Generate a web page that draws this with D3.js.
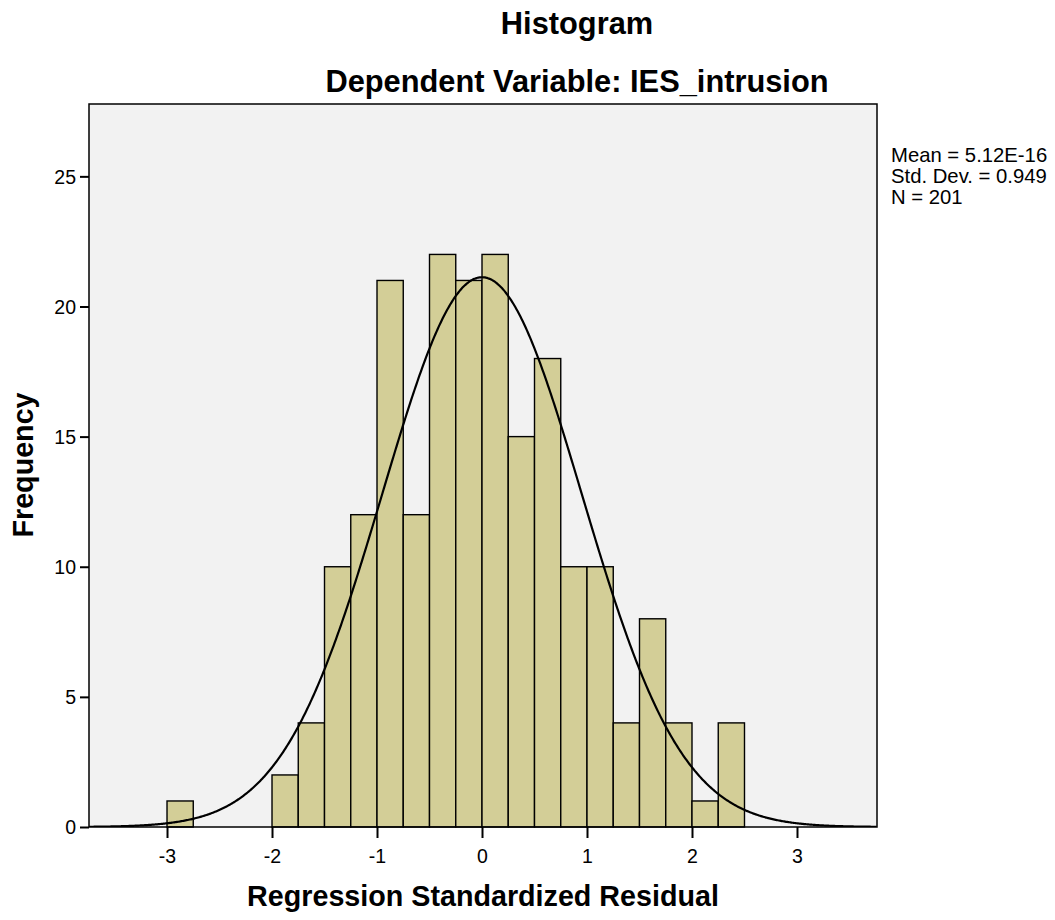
<!DOCTYPE html>
<html>
<head>
<meta charset="utf-8">
<script src="https://cdn.jsdelivr.net/npm/d3@7/dist/d3.min.js"></script>
<style>
  html, body { margin: 0; padding: 0; background: #fff; }
  text { font-family: "Liberation Sans", Arial, sans-serif; }
</style>
</head>
<body>
<svg id="chart" width="1055" height="920"></svg>
<script>
// Histogram bins: lower edge of each bin and its count
const binStart = [-3.0, -2.0, -1.75, -1.5, -1.25, -1.0, -0.75, -0.5, -0.25, 0.0,
                  0.25, 0.5, 0.75, 1.0, 1.25, 1.5, 1.75, 2.0, 2.25];
const binCount = [1, 2, 4, 10, 12, 21, 12, 22, 21, 22,
                  15, 18, 10, 10, 4, 8, 4, 1, 4];
const binWidth = 0.25;

// Summary statistics used for the fitted normal curve
const statMean = 5.12e-16;
const statSD = 0.949;
const statN = 201;
const legendLines = ["Mean = 5.12E-16", "Std. Dev. = 0.949", "N = 201"];

const xTicks = [-3, -2, -1, 0, 1, 2, 3];
const yTicks = [0, 5, 10, 15, 20, 25];

const svg = d3.select("#chart");
const plot = { left: 89, right: 877, top: 104, bottom: 827 };

const x = d3.scaleLinear().domain([-3.743, 3.762]).range([plot.left, plot.right]);
const y = d3.scaleLinear().domain([0, 27.78]).range([plot.bottom, plot.top]);

// Plot background
svg.append("rect")
  .attr("x", plot.left).attr("y", plot.top)
  .attr("width", plot.right - plot.left).attr("height", plot.bottom - plot.top)
  .attr("fill", "#f2f2f2");

svg.append("defs").append("clipPath").attr("id", "plotClip")
  .append("rect")
  .attr("x", plot.left).attr("y", plot.top)
  .attr("width", plot.right - plot.left).attr("height", plot.bottom - plot.top);

// Bars
svg.append("g").selectAll("rect")
  .data(binStart.map((s, i) => ({ s, c: binCount[i] })))
  .join("rect")
  .attr("x", d => x(d.s))
  .attr("y", d => y(d.c))
  .attr("width", d => x(d.s + binWidth) - x(d.s))
  .attr("height", d => y(0) - y(d.c))
  .attr("fill", "#d3ce97")
  .attr("stroke", "#000")
  .attr("stroke-width", 1.4);

// Normal curve scaled to counts
const pdf = v => Math.exp(-0.5 * ((v - statMean) / statSD) ** 2) / (statSD * Math.sqrt(2 * Math.PI));
const curvePts = d3.range(-3.743, 3.763, 0.01).map(v => [v, statN * binWidth * pdf(v)]);
svg.append("path")
  .datum(curvePts)
  .attr("clip-path", "url(#plotClip)")
  .attr("fill", "none")
  .attr("stroke", "#000")
  .attr("stroke-width", 2.2)
  .attr("d", d3.line().x(d => x(d[0])).y(d => y(d[1])).curve(d3.curveBasis));

// Plot frame
svg.append("rect")
  .attr("x", plot.left).attr("y", plot.top)
  .attr("width", plot.right - plot.left).attr("height", plot.bottom - plot.top)
  .attr("fill", "none").attr("stroke", "#000").attr("stroke-width", 1.5);

// Axes (plain hyphen for negative labels)
const fmt = d => String(d);
const xAxis = svg.append("g")
  .attr("transform", `translate(0,${plot.bottom})`)
  .call(d3.axisBottom(x).tickValues(xTicks).tickSize(11).tickSizeOuter(0).tickFormat(fmt));
xAxis.select(".domain").remove();
xAxis.selectAll(".tick line").attr("stroke", "#000").attr("stroke-width", 2);
xAxis.selectAll(".tick text")
  .attr("y", 36).attr("dy", 0)
  .attr("font-size", 19.5).attr("font-family", "Liberation Sans, Arial, sans-serif").attr("fill", "#000");

const yAxis = svg.append("g")
  .attr("transform", `translate(${plot.left},0)`)
  .call(d3.axisLeft(y).tickValues(yTicks).tickSize(9).tickSizeOuter(0).tickFormat(fmt));
yAxis.select(".domain").remove();
yAxis.selectAll(".tick line").attr("stroke", "#000").attr("stroke-width", 2);
yAxis.selectAll(".tick text")
  .attr("x", -13).attr("dy", "0.35em")
  .attr("font-size", 19.5).attr("font-family", "Liberation Sans, Arial, sans-serif").attr("fill", "#000");

// Titles
svg.append("text").attr("x", 577).attr("y", 34)
  .attr("text-anchor", "middle").attr("font-size", 30.8).attr("font-weight", "bold")
  .text("Histogram");
svg.append("text").attr("x", 577).attr("y", 92)
  .attr("text-anchor", "middle").attr("font-size", 30.8).attr("font-weight", "bold")
  .text("Dependent Variable: IES_intrusion");

// Axis titles
svg.append("text").attr("x", 483).attr("y", 906)
  .attr("text-anchor", "middle").attr("font-size", 28.7).attr("font-weight", "bold")
  .text("Regression Standardized Residual");
svg.append("text")
  .attr("transform", "translate(33,465) rotate(-90)")
  .attr("text-anchor", "middle").attr("font-size", 28.7).attr("font-weight", "bold")
  .text("Frequency");

// Statistics legend
svg.append("g").selectAll("text")
  .data(legendLines)
  .join("text")
  .attr("x", 891)
  .attr("y", (d, i) => 162 + i * 21)
  .attr("font-size", 20.3)
  .text(d => d);
</script>
</body>
</html>
